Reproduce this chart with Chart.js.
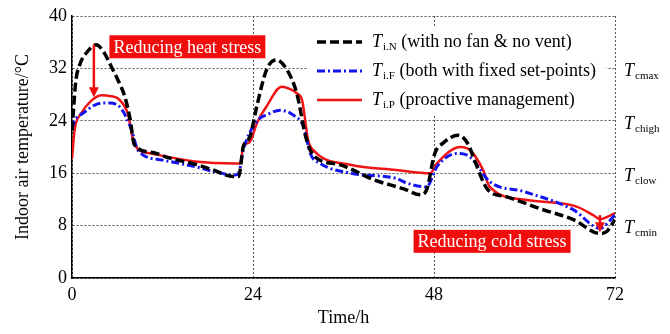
<!DOCTYPE html>
<html><head><meta charset="utf-8">
<script src="https://cdn.jsdelivr.net/npm/chart.js@4.4.1/dist/chart.umd.min.js"></script>
<style>html,body{margin:0;padding:0;background:#fff}#wrap{width:670px;height:334px}</style>
</head><body><div id="wrap"><canvas id="c" width="670" height="334"></canvas></div>
<script>
// ---- data ----
const hoursN = [0,0.5,1,2,3.2,4.2,5.2,6.1,7.0,7.65,8.3,10.5,13,16.5,18.7,21.4,22.1,22.7,23.6,24.5,25.8,27.1,28.5,29.8,31.1,32.2,35.5,40,44,46.2,47,48.1,49.2,51.2,52.6,53.2,55.2,57.6,62,66.5,70,70.9,72];
const tempN  = [22.5,30,32.5,34.5,35.6,34.5,32.3,30.2,27.7,24.6,20.3,19.2,18.3,17.3,16.5,15.5,15.5,20.0,21.6,26.2,31.8,33.3,31.8,28.2,21.1,18.5,17.3,15.0,13.6,12.7,13.4,19.0,20.6,21.8,20.3,18.5,13.4,12.4,10.6,8.9,6.8,7.1,8.9];
const hoursF = [0,0.35,1.5,3.9,5,6.5,7.9,8.75,12,16.3,19,21.5,22.1,22.7,24.5,26,27.6,29.3,30.7,31.6,32.9,36.9,43,44.4,47,48.4,51,52.3,53.2,55.4,59.9,66.5,70,72];
const tempF  = [22.8,24.0,25.2,26.7,26.7,25.9,22.6,19.5,18.0,17.0,16.2,15.7,16.0,19.5,23.9,25.0,25.6,24.9,23.1,19.0,17.5,16.0,15.2,14.5,13.9,17.0,19.0,18.8,18.0,14.7,13.2,10.4,7.6,9.6];
const hoursP = [0,0.35,1.2,2.5,3.9,5,6.1,7.4,8.3,10.5,16.3,21.8,22.3,22.7,23.6,24.5,25.8,27.8,28.8,29.8,30.5,31.3,32.2,36.9,43,47.5,48.4,51.5,52.8,54.5,55.4,60.3,66.9,69.1,70,72];
const tempP  = [18.2,22.6,25.1,27.0,27.9,27.8,27.4,25.1,20.3,19.0,17.8,17.5,17.5,20.0,20.8,23.6,26.2,29.2,28.9,28.2,27.2,21.1,19.3,17.3,16.5,16.0,17.5,20.0,19.5,16.5,13.9,11.9,10.9,9.6,9.0,9.9];

const xTicks = [0,24,48,72];
const yTicks = [0,8,16,24,32,40];
const rightLabelValues = [32,24,16,8];
const rightLabelSubs = ['cmax','chigh','clow','cmin'];
const seriesSubs = ['i.N','i.F','i.P'];
const seriesTexts = [' (with no fan & no vent)',' (both with fixed set-points)',' (proactive management)'];
const heatText = 'Reducing heat stress';
const coldText = 'Reducing cold stress';
const heatArrow = {hour:2.9, from:35.6, to:27.6};
const coldArrow = {hour:70.0, from:9.6, to:7.0};
const heatBoxAt = {hour:15.3, temp:35.3};
const coldBoxAt = {hour:55.7, temp:5.6};

const SERIF = '"Liberation Serif","DejaVu Serif",serif';
const toXY = (h,t) => h.map((v,i)=>({x:v,y:t[i]}));

const overlay = {
  id:'overlay',
  afterDatasetsDraw(chart){
    const ctx = chart.ctx, xs = chart.scales.x, ys = chart.scales.y;
    const ca = chart.chartArea;
    ctx.save();
    // right side labels
    rightLabelValues.forEach((v,i)=>{
      const y = ys.getPixelForValue(v)+3;
      ctx.fillStyle='#000';
      ctx.textBaseline='middle'; ctx.textAlign='left';
      ctx.font = 'italic 18px '+SERIF;
      const x0 = ca.right+9;
      ctx.fillText('T', x0, y);
      const w = ctx.measureText('T').width;
      ctx.font = '11px '+SERIF;
      ctx.fillText(rightLabelSubs[i], x0+w+1, y+5);
    });
    // legend
    ctx.fillStyle='#fff';
    ctx.fillRect(307, 27, 299, 87);
    chart.data.datasets.forEach((ds,i)=>{
      const y = 42 + i*29;
      ctx.save();
      ctx.strokeStyle = ds.borderColor; ctx.lineWidth = ds.borderWidth;
      ctx.setLineDash(ds.borderDash||[]);
      ctx.beginPath(); ctx.moveTo(317,y); ctx.lineTo(362,y); ctx.stroke();
      ctx.restore();
      ctx.fillStyle='#000'; ctx.textBaseline='middle'; ctx.textAlign='left';
      ctx.font='italic 18px '+SERIF;
      ctx.fillText('T',372,y);
      let x = 372 + ctx.measureText('T').width + 1;
      ctx.font='11px '+SERIF;
      ctx.fillText(seriesSubs[i], x, y+5);
      x += ctx.measureText(seriesSubs[i]).width;
      ctx.font='18px '+SERIF;
      ctx.fillText(seriesTexts[i], x, y);
    });
    // annotation boxes
    const box = (txt, at) => {
      ctx.font='18px '+SERIF;
      const w = ctx.measureText(txt).width + 8, h = 23;
      const cx = xs.getPixelForValue(at.hour), cy = ys.getPixelForValue(at.temp);
      ctx.fillStyle='#f20d0d';
      ctx.fillRect(cx-w/2, cy-h/2, w, h);
      ctx.fillStyle='#fff'; ctx.textAlign='center'; ctx.textBaseline='middle';
      ctx.fillText(txt, cx, cy+1);
    };
    box(heatText, heatBoxAt);
    box(coldText, coldBoxAt);
    const arrow = (a) => {
      const x = xs.getPixelForValue(a.hour);
      const y1 = ys.getPixelForValue(a.from), y2 = ys.getPixelForValue(a.to);
      ctx.strokeStyle='#f20d0d'; ctx.fillStyle='#f20d0d'; ctx.lineWidth=2.5;
      ctx.beginPath(); ctx.moveTo(x,y1); ctx.lineTo(x,y2-8); ctx.stroke();
      ctx.beginPath(); ctx.moveTo(x-5,y2-10); ctx.lineTo(x+5,y2-10); ctx.lineTo(x,y2); ctx.closePath(); ctx.fill();
    };
    arrow(heatArrow);
    arrow(coldArrow);
    ctx.restore();
  }
};

new Chart(document.getElementById('c'), {
  type:'line',
  data:{datasets:[
    {label:'T i.N (with no fan & no vent)', data:toXY(hoursN,tempN), borderColor:'#000000', borderWidth:3.5, borderDash:[9,4], pointRadius:0, fill:false, cubicInterpolationMode:'monotone'},
    {label:'T i.F (both with fixed set-points)', data:toXY(hoursF,tempF), borderColor:'#1414f0', borderWidth:3, borderDash:[8,3,2,3], pointRadius:0, fill:false, cubicInterpolationMode:'monotone'},
    {label:'T i.P (proactive management)', data:toXY(hoursP,tempP), borderColor:'#f01414', borderWidth:2.5, pointRadius:0, fill:false, cubicInterpolationMode:'monotone'}
  ]},
  options:{
    responsive:false, animation:false, devicePixelRatio:1,
    layout:{padding:{left:0,right:55,top:16,bottom:0}},
    plugins:{legend:{display:false}, tooltip:{enabled:false}},
    scales:{
      x:{type:'linear', min:0, max:72,
        afterBuildTicks(s){ s.ticks = xTicks.map(v=>({value:v})); },
        afterFit(s){ s.height = 56; },
        ticks:{font:{family:SERIF,size:18}, color:'#000', padding:6, maxRotation:0},
        grid:{color:'#555', lineWidth:1, drawTicks:false},
        border:{display:true, color:'#000', width:1.5, dash:[2,2]},
        title:{display:true, text:'Time/h', font:{family:SERIF,size:18}, color:'#000', padding:{top:0,bottom:5}}
      },
      y:{min:0, max:40,
        afterBuildTicks(s){ s.ticks = yTicks.map(v=>({value:v})); },
        afterFit(s){ s.width = 72; },
        ticks:{font:{family:SERIF,size:18}, color:'#000', padding:5},
        grid:{color:'#555', lineWidth:1, drawTicks:false},
        border:{display:true, color:'#000', width:1.5, dash:[2,2]},
        title:{display:true, text:'Indoor air temperature/°C', font:{family:SERIF,size:18}, color:'#000', padding:{top:12,bottom:0}}
      }
    }
  },
  plugins:[overlay]
});
</script></body></html>
